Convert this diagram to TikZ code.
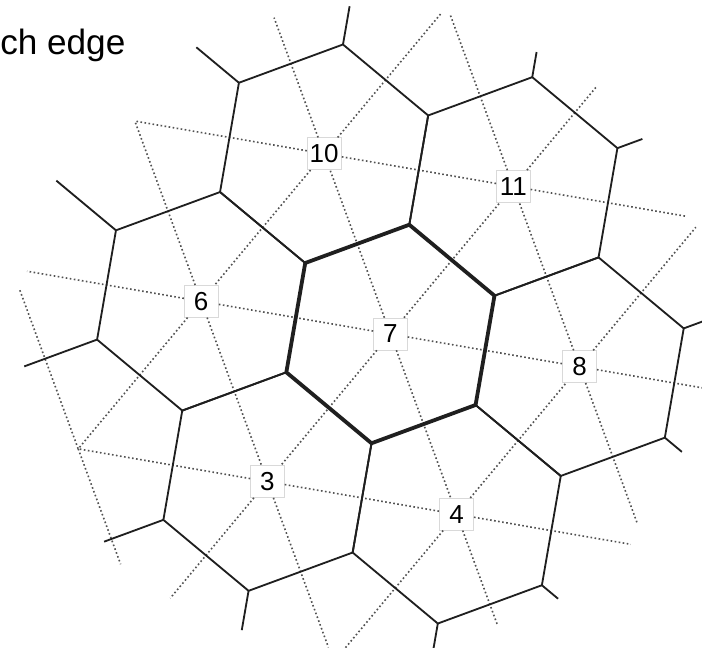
\documentclass[tikz,border=0pt]{standalone}
\usepackage{fontspec}
\setmainfont{Liberation Sans}
\usetikzlibrary{calc}
\tikzset{
  % Voronoi cells solid, Delaunay edges dotted
  cell/.style={draw=black!88,line width=1.3pt},
  hub/.style={cell,line width=2.7pt},
  tri/.style={draw=black!68,line width=1.15pt,dash pattern=on 1.15pt off 1.75pt},
  site/.style={rectangle,draw=black!15,fill=white,line width=0.4pt,
    minimum width=0.85cm,minimum height=0.8cm,inner sep=1pt,
    font=\fontsize{18.5}{18.5}\selectfont}
}

\begin{document}
\begin{tikzpicture}[x=0.025cm,y=-0.025cm]
\useasboundingbox (0,0) rectangle (702,648);
\clip (0,0) rectangle (702,648);
\def\hexcell{++(1/3,1/3) -- ++(-2/3,1/3) -- ++(-1/3,-1/3) -- ++(1/3,-2/3)
  -- ++(2/3,-1/3) -- ++(1/3,1/3) -- cycle}
\node[anchor=base west,inner sep=0pt,font=\fontsize{25}{30}\selectfont]
  (cap) at (0,55) {ch edge};
% ---------------- lattice: x to the right neighbour, y to the upper right ----------------
\begin{scope}[shift={(390.4,334)},x={(4.730cm,-0.817cm)},y={(3.073cm,3.688cm)}]
  \node[site] (n7) at (0,0) {7};
  \node[site] (n8) at (1,0) {8};
  \node[site] (n6) at (-1,0) {6};
  \node[site] (n11) at (0,1) {11};
  \node[site] (n10) at (-1,1) {10};
  \node[site] (n3) at (0,-1) {3};
  \node[site] (n4) at (1,-1) {4};
  % outer ring of sites, not labelled
  \coordinate (rW) at (-2,0);   \coordinate (rNW) at (-2,1);
  \coordinate (rNNW) at (-2,2); \coordinate (rN) at (-1,2);
  \coordinate (rNE) at (0,2);   \coordinate (rE1) at (1,1);
  \coordinate (rE) at (2,0);    \coordinate (rSE) at (2,-1);
  \coordinate (rSSE) at (2,-2); \coordinate (rS) at (1,-2);
  \coordinate (rSW) at (0,-2);  \coordinate (rWSW) at (-1,-1);
  % triangulation
  \foreach \t in {n8,n11,n10,n6,n3,n4} \draw[tri] (n7) -- (\t);
  \foreach \s/\t in {n8/n11,n11/n10,n10/n6,n6/n3,n3/n4,n4/n8,
      n10/rNW,n6/rNW,n6/rWSW,n3/rWSW}
    \draw[tri] (\s) -- (\t);
  \foreach \s/\t/\f in {n6/rW/.92,rWSW/rSW/.64,n10/rNNW/.755,n10/rN/.95,
      n11/rN/.95,n11/rNE/.68,n11/rE1/.91,n8/rE1/.945,n8/rE/1,n8/rSE/.87,
      n4/rSE/.92,n4/rSSE/.62,n4/rS/.92,n3/rS/.92,n3/rSW/.79}
    \draw[tri] (\s) -- ($(\s)!\f!(\t)$);
  \draw[tri] ($(rW)!.12!(rWSW)$) -- (rWSW);
  % cells
  \foreach \i/\j in {1/0,-1/0,0/1,-1/1,0/-1,1/-1}
    \draw[cell] (\i,\j) \hexcell;
  \draw[hub] (0,0) \hexcell;
  % cut-off edges leaving the outer vertices
  \foreach \i/\j/\u/\v/\f in {-1/1/-1/2/.35,-1/1/-2/1/.5,-1/0/-2/1/.7,
      -1/0/-1/-1/.7,0/-1/-1/-1/.57,0/-1/1/-2/.36,1/-1/1/-2/.4,1/-1/2/-1/.19,
      1/0/2/-1/.2,1/0/1/1/.3,0/1/1/1/.24,0/1/-1/2/.23}
    \draw[cell] ({\i+\u/3},{\j+\v/3}) -- ({\i+(1+\f)*\u/3},{\j+(1+\f)*\v/3});
\end{scope}
\end{tikzpicture}
\end{document}
